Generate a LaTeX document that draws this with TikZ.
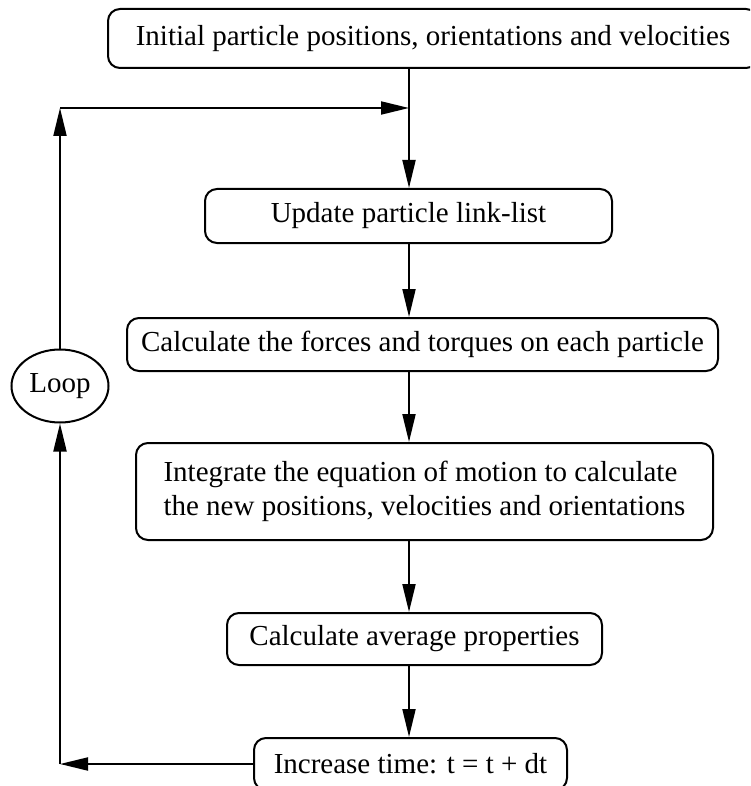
\documentclass[tikz,border=0pt]{standalone}
\usepackage{fontspec}
\setmainfont{Liberation Serif}
\usetikzlibrary{arrows.meta,shapes.geometric}

\begin{document}
\begin{tikzpicture}[x=0.5pt, y=-0.5pt, line width=1pt,
  flowbox/.style={draw, rounded corners=6pt, inner sep=0pt, align=center,
    font=\fontsize{14.5}{17}\selectfont},
  loopnode/.style={draw, ellipse, inner sep=0pt, minimum width=48.5pt,
    minimum height=36.5pt, font=\fontsize{14.5}{17}\selectfont},
  flowarrow/.style={-{Triangle[length=14pt,width=6.5pt]}}]
% Set the picture size
\useasboundingbox (0,0) rectangle (750,786);
\clip (0,0) rectangle (750,786);

% Draw the steps of the loop
\node[flowbox, minimum width=325pt, minimum height=29.5pt] (init) at (433, 38.5) {Initial particle positions, orientations and velocities};
\node[flowbox, minimum width=203.5pt, minimum height=27pt] (upd) at (408.5, 216) {Update particle link-list};
\node[flowbox, minimum width=295.5pt, minimum height=26.5pt] (frc) at (422.5, 344.5) {Calculate the forces and torques on each particle};
\node[flowbox, minimum width=288.5pt, minimum height=48.5pt, align=left] (integ) at (424.5, 491.5) {Integrate the equation of motion to calculate\\the new positions, velocities and orientations};
\node[flowbox, minimum width=187.5pt, minimum height=26pt] (avg) at (414.5, 639) {Calculate average properties};
\node[flowbox, minimum width=156.5pt, minimum height=26pt] (inc) at (410.5, 764) {Increase time: t = t + dt};
\node[loopnode] (loop) at (60, 386) {Loop};

% Points where the arrows turn
\coordinate (spine) at (409, 108);
\coordinate (corner) at (60, 108);

% Draw the arrows down the steps
\draw[flowarrow] (init.south -| spine) -- (upd.north -| spine);
\draw[flowarrow] (upd.south -| spine) -- (frc.north -| spine);
\draw[flowarrow] (frc.south -| spine) -- (integ.north -| spine);
\draw[flowarrow] (integ.south -| spine) -- (avg.north -| spine);
\draw[flowarrow] (avg.south -| spine) -- (inc.north -| spine);

% Draw the way back round
\draw[flowarrow] (inc.west) -- (inc.west -| loop);
\draw[flowarrow] (inc.west -| loop) -- (loop.south);
\draw[flowarrow] (loop.north) -- (corner);
\draw[flowarrow] (corner) -- (spine);
\end{tikzpicture}
\end{document}
